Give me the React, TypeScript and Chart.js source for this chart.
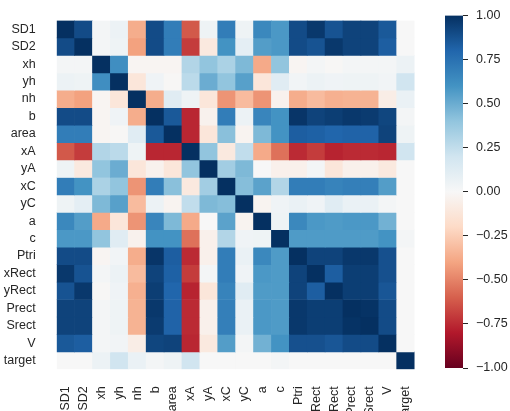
import { useEffect, useRef } from "react";
import { Chart, registerables } from "chart.js";

Chart.register(...registerables);

// Feature names, in row/column order of the correlation matrix
const variables = [
  "SD1", "SD2", "xh", "yh", "nh", "b", "area", "xA", "yA", "xC",
  "yC", "a", "c", "Ptri", "xRect", "yRect", "Prect", "Srect", "V", "target",
];

// Pairwise correlation coefficients (rows follow `variables`)
const rowSD1 = [1.00, 0.90, 0.02, 0.06, -0.37, 0.90, 0.70, -0.62, 0.05, 0.70, 0.05, 0.65, 0.58, 0.90, 0.97, 0.87, 0.93, 0.93, 0.85, 0.00];
const rowSD2 = [0.90, 1.00, 0.02, 0.05, -0.41, 0.90, 0.70, -0.70, -0.10, 0.60, 0.10, 0.56, 0.58, 0.90, 0.87, 0.97, 0.93, 0.93, 0.83, 0.00];
const rowXh = [0.02, 0.02, 1.00, 0.62, -0.02, -0.02, -0.02, 0.30, 0.40, 0.32, 0.45, -0.38, 0.40, -0.02, 0.02, -0.01, 0.02, 0.02, 0.02, 0.06];
const rowYh = [0.06, 0.05, 0.62, 1.00, -0.12, 0.04, -0.01, 0.27, 0.50, 0.40, 0.55, -0.12, 0.12, 0.03, 0.06, 0.04, 0.05, 0.05, 0.03, 0.20];
const rowNh = [-0.37, -0.41, -0.02, -0.12, 1.00, -0.37, 0.12, 0.05, -0.12, -0.45, -0.32, -0.45, -0.04, -0.37, -0.32, -0.36, -0.35, -0.35, -0.07, 0.07];
const rowB = [0.90, 0.90, -0.02, 0.04, -0.37, 1.00, 0.85, -0.76, -0.04, 0.70, 0.06, 0.66, 0.60, 0.98, 0.93, 0.95, 0.97, 0.96, 0.92, 0.02];
const rowArea = [0.70, 0.70, -0.02, -0.01, 0.12, 0.85, 1.00, -0.76, -0.12, 0.42, -0.03, 0.45, 0.60, 0.83, 0.82, 0.80, 0.81, 0.81, 0.93, 0.05];
const rowXA = [-0.62, -0.70, 0.30, 0.27, 0.05, -0.76, -0.76, 1.00, 0.40, -0.10, 0.25, -0.38, -0.55, -0.75, -0.70, -0.77, -0.75, -0.75, -0.76, 0.20];
const rowYA = [0.05, -0.10, 0.40, 0.50, -0.12, -0.04, -0.12, 0.40, 1.00, 0.35, 0.45, 0.00, -0.05, -0.05, 0.02, -0.12, -0.05, -0.05, -0.10, 0.00];
const rowXC = [0.70, 0.60, 0.32, 0.40, -0.45, 0.70, 0.42, -0.10, 0.35, 1.00, 0.43, 0.54, 0.30, 0.70, 0.70, 0.67, 0.69, 0.69, 0.56, 0.00];
const rowYC = [0.05, 0.10, 0.45, 0.55, -0.32, 0.06, -0.03, 0.25, 0.45, 0.43, 1.00, -0.03, 0.04, 0.07, 0.04, 0.12, 0.07, 0.07, 0.02, 0.00];
const rowA = [0.65, 0.56, -0.38, -0.12, -0.45, 0.66, 0.45, -0.38, 0.00, 0.54, -0.03, 1.00, 0.05, 0.65, 0.58, 0.57, 0.58, 0.58, 0.48, 0.00];
const rowC = [0.58, 0.58, 0.40, 0.12, -0.04, 0.60, 0.60, -0.55, -0.05, 0.30, 0.04, 0.05, 1.00, 0.57, 0.57, 0.57, 0.57, 0.57, 0.60, 0.02];
const rowPtri = [0.90, 0.90, -0.02, 0.03, -0.37, 0.98, 0.83, -0.75, -0.05, 0.70, 0.07, 0.65, 0.57, 1.00, 0.93, 0.93, 0.97, 0.97, 0.88, 0.00];
const rowXRect = [0.97, 0.87, 0.02, 0.06, -0.32, 0.93, 0.82, -0.70, 0.02, 0.70, 0.04, 0.58, 0.57, 0.93, 1.00, 0.83, 0.95, 0.95, 0.88, 0.00];
const rowYRect = [0.87, 0.97, -0.01, 0.04, -0.36, 0.95, 0.80, -0.77, -0.12, 0.67, 0.12, 0.57, 0.57, 0.93, 0.83, 1.00, 0.95, 0.95, 0.86, 0.00];
const rowPrect = [0.93, 0.93, 0.02, 0.05, -0.35, 0.97, 0.81, -0.75, -0.05, 0.69, 0.07, 0.58, 0.57, 0.97, 0.95, 0.95, 1.00, 0.99, 0.90, 0.00];
const rowSrect = [0.93, 0.93, 0.02, 0.05, -0.35, 0.96, 0.81, -0.75, -0.05, 0.69, 0.07, 0.58, 0.57, 0.97, 0.95, 0.95, 0.99, 1.00, 0.90, 0.00];
const rowV = [0.85, 0.83, 0.02, 0.03, -0.07, 0.92, 0.93, -0.76, -0.10, 0.56, 0.02, 0.48, 0.60, 0.88, 0.88, 0.86, 0.90, 0.90, 1.00, 0.00];
const rowTarget = [0.00, 0.00, 0.06, 0.20, 0.07, 0.02, 0.05, 0.20, 0.00, 0.00, 0.00, 0.00, 0.02, 0.00, 0.00, 0.00, 0.00, 0.00, 0.00, 1.00];

const corr = [
  rowSD1, rowSD2, rowXh, rowYh, rowNh, rowB, rowArea, rowXA, rowYA, rowXC,
  rowYC, rowA, rowC, rowPtri, rowXRect, rowYRect, rowPrect, rowSrect, rowV, rowTarget,
];

// Colour bar tick values
const colorbarTicks = [-1, -0.75, -0.5, -0.25, 0, 0.25, 0.5, 0.75, 1];

// Diverging red-blue palette (reversed), evenly spaced from -1 to 1
const rdbuStops = [
  "#67001f", "#b2182b", "#d6604d", "#f4a582", "#fddbc7", "#f7f7f7",
  "#d1e5f0", "#92c5de", "#4393c3", "#2166ac", "#053061",
];

function hexToRgb(h: string): number[] {
  return [1, 3, 5].map((k) => parseInt(h.slice(k, k + 2), 16));
}

function rdbuR(v: number): string {
  const t = Math.max(0, Math.min(1, (v + 1) / 2)) * (rdbuStops.length - 1);
  const i = Math.min(rdbuStops.length - 2, Math.floor(t));
  const f = t - i;
  const a = hexToRgb(rdbuStops[i]);
  const b = hexToRgb(rdbuStops[i + 1]);
  const c = a.map((x, k) => Math.round(x + (b[k] - x) * f));
  return `rgb(${c[0]},${c[1]},${c[2]})`;
}

const TEXT = "#262626";
const FONT = { family: "'Liberation Sans', Arial, Helvetica, sans-serif", size: 12.5 };

export default function App() {
  const heatRef = useRef<HTMLCanvasElement>(null);
  const barRef = useRef<HTMLCanvasElement>(null);

  useEffect(() => {
    const heat = new Chart(heatRef.current!, {
      type: "bar",
      data: {
        labels: variables,
        datasets: variables.map((name, i) => ({
          label: name,
          data: variables.map(() => 1),
          backgroundColor: corr[i].map(rdbuR),
          borderWidth: 0,
          barPercentage: 1,
          categoryPercentage: 1,
          stack: "grid",
        })),
      },
      options: {
        animation: false,
        responsive: false,
        layout: { padding: { top: 10, right: 14.7, left: 0, bottom: 0 } },
        plugins: { legend: { display: false }, tooltip: { enabled: false } },
        scales: {
          x: {
            stacked: true,
            grid: { display: false },
            border: { display: false },
            ticks: {
              autoSkip: false,
              minRotation: 90,
              maxRotation: 90,
              padding: 9,
              color: TEXT,
              font: FONT,
            },
            afterFit: (s: any) => {
              s.height = 41.7;
            },
          },
          y: {
            stacked: true,
            min: 0,
            max: variables.length,
            reverse: true,
            grid: { display: false },
            border: { display: false },
            afterBuildTicks: (s: any) => {
              s.ticks = variables.map((_, i) => ({ value: i + 0.5 }));
            },
            ticks: {
              autoSkip: false,
              padding: 13,
              color: TEXT,
              font: FONT,
              callback: (_v: any, index: number) => variables[index],
            },
            afterFit: (s: any) => {
              s.width = 56.7;
            },
          },
        },
      },
    });

    const cbar = new Chart(barRef.current!, {
      type: "bar",
      data: {
        labels: [""],
        datasets: [
          {
            data: [[-1, 1]] as any,
            borderWidth: 0,
            barPercentage: 1,
            categoryPercentage: 1,
            backgroundColor: (ctx: any) => {
              const area = ctx.chart.chartArea;
              if (!area) return "#f7f7f7";
              const g = ctx.chart.ctx.createLinearGradient(0, area.bottom, 0, area.top);
              rdbuStops.forEach((c, k) => g.addColorStop(k / (rdbuStops.length - 1), c));
              return g;
            },
          },
        ],
      },
      options: {
        animation: false,
        responsive: false,
        layout: { padding: { top: 10, left: 15, right: 0, bottom: 43 } },
        plugins: { legend: { display: false }, tooltip: { enabled: false } },
        scales: {
          x: { display: false },
          y: {
            position: "right",
            min: -1,
            max: 1,
            grid: { drawOnChartArea: false, tickLength: 5, color: TEXT, tickWidth: 1 },
            border: { display: false },
            afterBuildTicks: (s: any) => {
              s.ticks = colorbarTicks.map((v) => ({ value: v }));
            },
            ticks: {
              padding: 8,
              color: TEXT,
              font: FONT,
              callback: (v: any) => Number(v).toFixed(2).replace("-", "\u2212"),
            },
            afterFit: (s: any) => {
              s.width = 47;
            },
          },
        },
      },
    });

    return () => {
      heat.destroy();
      cbar.destroy();
    };
  }, []);

  return (
    <div
      style={{
        position: "fixed",
        left: 0,
        top: 0,
        width: 510,
        height: 411,
        background: "#ffffff",
        overflow: "hidden",
      }}
    >
      <canvas
        ref={heatRef}
        width={430}
        height={411}
        style={{ position: "absolute", left: 0, top: 0 }}
      />
      <canvas
        ref={barRef}
        width={80}
        height={411}
        style={{ position: "absolute", left: 430, top: 0 }}
      />
    </div>
  );
}
